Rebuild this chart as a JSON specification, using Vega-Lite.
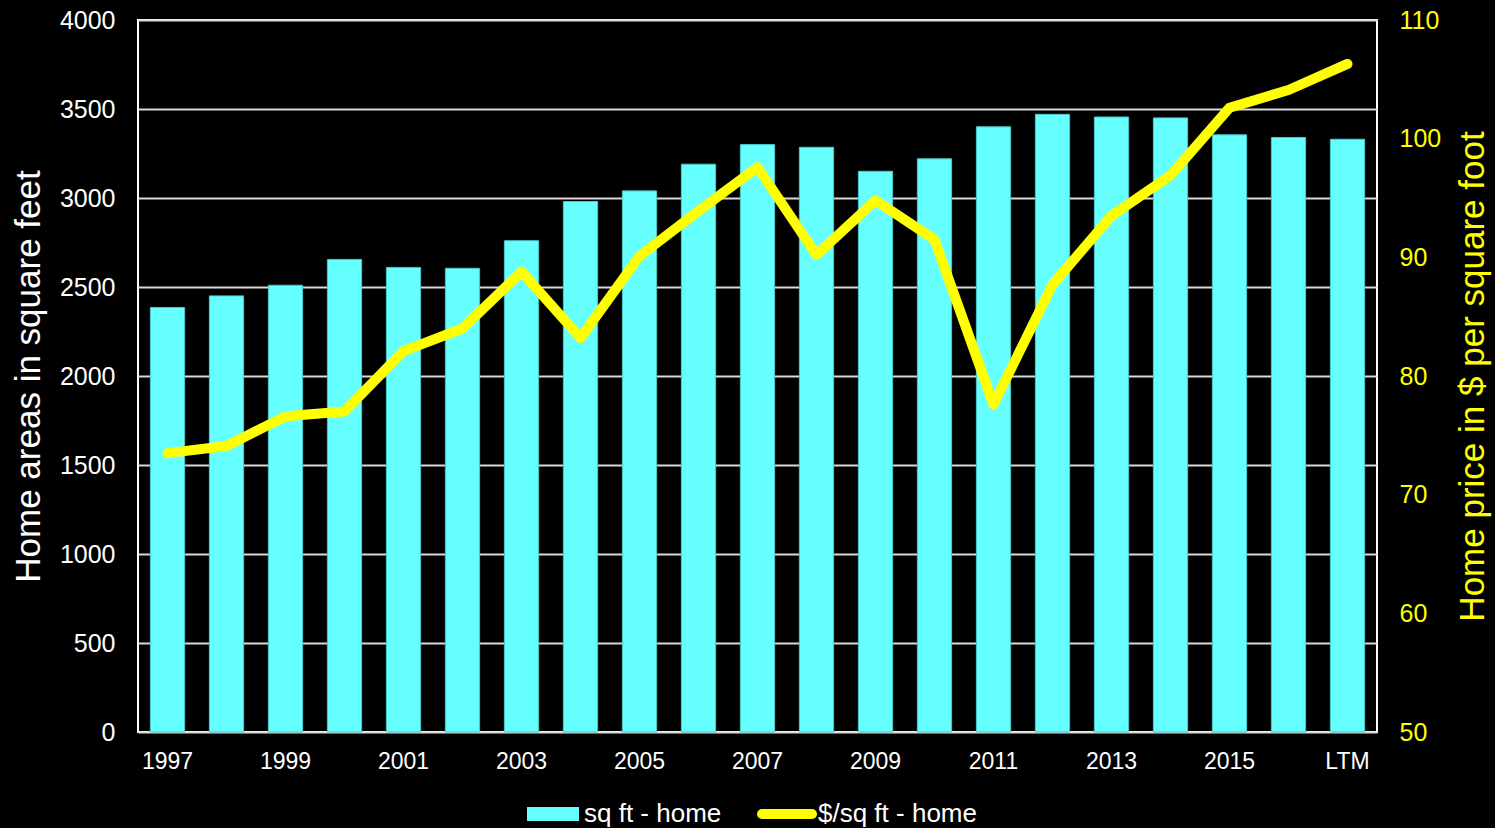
{
  "$schema": "https://vega.github.io/schema/vega-lite/v6.json",
  "background": "#000000",
  "autosize": "none",
  "width": 1239,
  "height": 712,
  "padding": {"left": 138, "top": 20, "right": 118, "bottom": 96},
  "config": {
    "font": "Liberation Sans",
    "view": {"stroke": "#FFFFFF", "strokeWidth": 2},
    "axis": {"labelFont": "Liberation Sans", "titleFont": "Liberation Sans", "titleFontWeight": "normal", "ticks": false, "domain": false},
    "legend": {"labelFont": "Liberation Sans"}
  },
  "data": {
    "values": [
      {"year": "1997", "sqft": 2385, "price": 73.5},
      {"year": "1998", "sqft": 2450, "price": 74.1},
      {"year": "1999", "sqft": 2510, "price": 76.6},
      {"year": "2000", "sqft": 2655, "price": 77.0},
      {"year": "2001", "sqft": 2610, "price": 82.1},
      {"year": "2002", "sqft": 2605, "price": 84.0},
      {"year": "2003", "sqft": 2760, "price": 88.8},
      {"year": "2004", "sqft": 2980, "price": 83.2},
      {"year": "2005", "sqft": 3040, "price": 90.1},
      {"year": "2006", "sqft": 3190, "price": 93.9},
      {"year": "2007", "sqft": 3300, "price": 97.6},
      {"year": "2008", "sqft": 3285, "price": 90.2},
      {"year": "2009", "sqft": 3150, "price": 94.8},
      {"year": "2010", "sqft": 3220, "price": 91.5},
      {"year": "2011", "sqft": 3400, "price": 77.6},
      {"year": "2012", "sqft": 3470, "price": 87.7},
      {"year": "2013", "sqft": 3455, "price": 93.5},
      {"year": "2014", "sqft": 3450, "price": 96.9},
      {"year": "2015", "sqft": 3355, "price": 102.6},
      {"year": "2016", "sqft": 3340, "price": 104.1},
      {"year": "LTM", "sqft": 3330, "price": 106.3}
    ]
  },
  "encoding": {
    "x": {
      "field": "year", "type": "ordinal", "sort": null,
      "scale": {"paddingInner": 0.42, "paddingOuter": 0.21},
      "axis": {
        "title": null, "labelAngle": 0, "labelColor": "#FFFFFF", "labelFontSize": 23, "labelPadding": 18,
        "values": ["1997", "1999", "2001", "2003", "2005", "2007", "2009", "2011", "2013", "2015", "LTM"],
        "grid": false
      }
    }
  },
  "layer": [
    {
      "mark": {"type": "bar", "fill": "#66FFFF", "stroke": "#4CC8C8", "strokeWidth": 1},
      "encoding": {
        "y": {
          "field": "sqft", "type": "quantitative",
          "scale": {"domain": [0, 4000], "nice": false},
          "axis": {
            "title": "Home areas in square feet", "titleColor": "#FFFFFF", "titleFontSize": 35, "titlePadding": 13,
            "labelColor": "#FFFFFF", "labelFontSize": 25, "labelPadding": 23, "format": "d",
            "values": [0, 500, 1000, 1500, 2000, 2500, 3000, 3500, 4000],
            "grid": true, "gridColor": "#D9D9D9", "gridWidth": 2
          }
        },
        "fill": {
          "datum": "sq ft - home", "type": "nominal",
          "scale": {"domain": ["sq ft - home"], "range": ["#66FFFF"]},
          "legend": {
            "title": null, "orient": "none", "legendX": 389, "legendY": 768,
            "symbolType": "M-1,-0.27H1V0.27H-1Z", "symbolSize": 2704, "symbolStrokeWidth": 0,
            "labelColor": "#FFFFFF", "labelFontSize": 26, "labelOffset": 5, "padding": 0
          }
        }
      }
    },
    {
      "mark": {"type": "line", "color": "#FFFF00", "strokeWidth": 10, "strokeCap": "round", "strokeJoin": "round"},
      "encoding": {
        "y": {
          "field": "price", "type": "quantitative",
          "scale": {"domain": [50, 110], "nice": false, "zero": false},
          "axis": {
            "orient": "right",
            "title": "Home price in $ per square foot", "titleColor": "#FFFF00", "titleFontSize": 35, "titleAngle": 270, "titlePadding": 50,
            "labelColor": "#FFFF00", "labelFontSize": 25, "labelPadding": 22,
            "values": [50, 60, 70, 80, 90, 100, 110],
            "grid": false
          }
        },
        "stroke": {
          "datum": "$/sq ft - home", "type": "nominal",
          "scale": {"domain": ["$/sq ft - home"], "range": ["#FFFF00"]},
          "legend": {
            "title": null, "orient": "none", "legendX": 619, "legendY": 764,
            "symbolType": "stroke", "symbolSize": 2500, "symbolStrokeWidth": 10,
            "labelColor": "#FFFFFF", "labelFontSize": 26, "labelOffset": 1, "padding": 0,
            "encode": {"symbols": {"update": {"strokeCap": {"value": "round"}}}}
          }
        }
      }
    }
  ],
  "resolve": {"scale": {"y": "independent"}}
}
